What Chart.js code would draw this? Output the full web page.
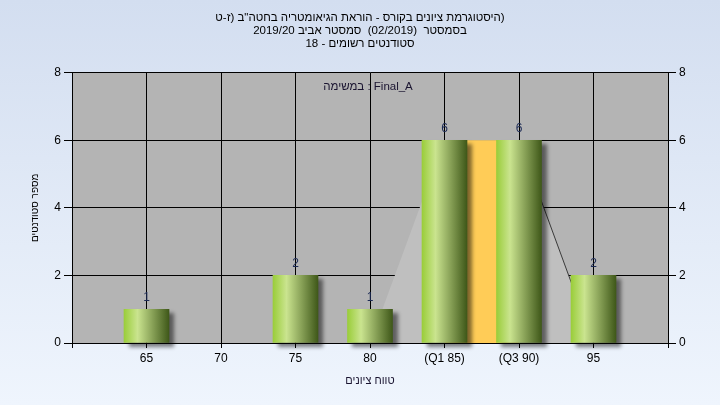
<!DOCTYPE html>
<html><head><meta charset="utf-8">
<script src="https://cdn.jsdelivr.net/npm/chart.js@4/dist/chart.umd.min.js"></script>
<style>html,body{margin:0;padding:0;background:#e0e9f6}#wrap{width:720px;height:405px;position:relative}</style>
</head><body><div id="wrap"><canvas id="c" width="720" height="405"></canvas></div>
<script>
const titleLines = ['\u200Eהיסטוגרמת ציונים בקורס - הוראת הגיאומטריה בחטה"ב (ז-ט\u2066)\u2069', '\u200Eבסמסטר  (02/2019)  סמסטר אביב 2019/20', '\u200Eסטודנטים רשומים - 18'];
const seriesName = 'Final_A';
const legendText = '\u200Eבמשימה : ' + seriesName;
const gradeLabels = ['65', '70', '75', '80', '(Q1 85)', '(Q3 90)', '95'];
const studentCounts = [1, 0, 2, 1, 6, 6, 2];
const iqrBand = [null, null, null, null, 6, 6, null];
const iqrArea = [null, null, null, 0, 6, 6, 0];
const yTitle = 'מספר סטודנטים';
const xTitle = 'טווח ציונים';
const yMax = 8, yStep = 2;

const FONT = 'Liberation Sans, Arial, sans-serif';
const pad = arr => [null, ...arr, null];
const labels = ['', ...gradeLabels, ''];

const bgPlugin = {
  id: 'bg',
  beforeDraw(chart) {
    const {ctx, width, height, chartArea: a} = chart;
    ctx.save();
    const g = ctx.createLinearGradient(0, 0, 0, height);
    g.addColorStop(0, '#d3def0');
    g.addColorStop(1, '#eff5fd');
    ctx.fillStyle = g;
    ctx.fillRect(0, 0, width, height);
    ctx.fillStyle = '#b4b4b4';
    ctx.fillRect(a.left, a.top, a.right - a.left, a.bottom - a.top);
    ctx.restore();
  }
};
const shadowPlugin = {
  id: 'shadow',
  beforeDatasetDraw(chart, args) {
    if (args.meta.type !== 'bar') return;
    const ctx = chart.ctx;
    ctx.save();
    ctx.shadowColor = 'rgba(0,0,0,0.5)';
    ctx.shadowOffsetX = 5;
    ctx.shadowOffsetY = 4;
    ctx.shadowBlur = 4;
  },
  afterDatasetDraw(chart, args) {
    if (args.meta.type !== 'bar') return;
    chart.ctx.restore();
  }
};
const textPlugin = {
  id: 'texts',
  afterDatasetsDraw(chart) {
    const ctx = chart.ctx, a = chart.chartArea;
    ctx.save();
    ctx.textAlign = 'center';
    ctx.textBaseline = 'middle';
    ctx.font = '12px ' + FONT;
    chart.data.datasets.forEach((ds, i) => {
      if (ds.type !== 'bar') return;
      const meta = chart.getDatasetMeta(i);
      meta.data.forEach((el, j) => {
        const v = ds.data[j];
        if (!v) return;
        ctx.fillStyle = '#1c2a55';
        ctx.fillText(String(v), el.x, el.y - 12);
      });
    });
    ctx.font = '11.5px ' + FONT;
    ctx.fillStyle = '#1a1430';
    ctx.fillText(legendText, (a.left + a.right) / 2 - 2, a.top + 14);
    ctx.restore();
  }
};

function barGradient(c) {
  const chart = c.chart, xs = chart.scales && chart.scales.x;
  const fallback = '#9acd3a';
  if (!xs || c.type !== 'data' || !chart.chartArea) return fallback;
  const cx = xs.getPixelForValue(c.dataIndex);
  if (!isFinite(cx)) return fallback;
  const g = chart.ctx.createLinearGradient(cx - 22.5, 0, cx + 22.5, 0);
  g.addColorStop(0, '#9acd3a');
  g.addColorStop(0.3, '#cae48f');
  g.addColorStop(0.6, '#8fa85d');
  g.addColorStop(1, '#3f5819');
  return g;
}

new Chart(document.getElementById('c'), {
  data: {
    labels,
    datasets: [
      {
        type: 'bar',
        data: pad(studentCounts.map(v => v === 0 ? null : v)),
        order: 0,
        barThickness: 45,
        borderWidth: 0,
        clip: false,
        backgroundColor: barGradient
      },
      {
        type: 'line',
        data: pad(iqrBand),
        order: 1,
        fill: 'origin',
        backgroundColor: '#ffcc57',
        borderWidth: 0,
        borderColor: 'transparent',
        pointRadius: 0
      },
      {
        type: 'line',
        data: pad(iqrArea),
        order: 2,
        fill: 'origin',
        backgroundColor: '#bfbfbf',
        borderWidth: 1,
        borderColor: 'transparent',
        segment: {
          borderColor: s => s.p0DataIndex === 6 ? '#3a3a3a' : 'transparent'
        },
        pointRadius: 0
      }
    ]
  },
  options: {
    responsive: false,
    devicePixelRatio: 1,
    animation: false,
    events: [],
    layout: {padding: 0},
    plugins: {
      legend: {display: false},
      tooltip: {enabled: false},
      title: {
        display: true,
        text: titleLines,
        color: '#000',
        font: {family: FONT, size: 11.5, weight: 'normal', lineHeight: 1.15},
        padding: {top: 11, bottom: 22}
      }
    },
    scales: {
      x: {
        type: 'category',
        offset: false,
        grid: {color: '#000', lineWidth: 1, tickLength: 5, drawTicks: true, offset: false},
        border: {color: '#000'},
        ticks: {color: '#000', font: {family: FONT, size: 12}, maxRotation: 0, autoSkip: false, padding: 3},
        title: {display: true, text: xTitle, color: '#1a1430', font: {family: FONT, size: 11}, padding: {top: 0, bottom: 17}},
        afterFit: s => { s.height = 62; }
      },
      y: {
        position: 'left',
        min: 0, max: yMax,
        grid: {color: '#000', lineWidth: 1, tickLength: 8},
        border: {color: '#000'},
        ticks: {stepSize: yStep, color: '#000', font: {family: FONT, size: 12}, padding: 3},
        title: {display: true, text: yTitle, color: '#000', font: {family: FONT, size: 10}, padding: {top: 29, bottom: 0}},
        afterFit: s => { s.width = 72; }
      },
      y2: {
        position: 'right',
        min: 0, max: yMax,
        grid: {color: '#000', lineWidth: 1, tickLength: 8, drawOnChartArea: false},
        border: {color: '#000'},
        ticks: {stepSize: yStep, color: '#000', font: {family: FONT, size: 12}, padding: 3},
        afterFit: s => { s.width = 52; }
      }
    }
  },
  plugins: [bgPlugin, shadowPlugin, textPlugin]
});
</script></body></html>
